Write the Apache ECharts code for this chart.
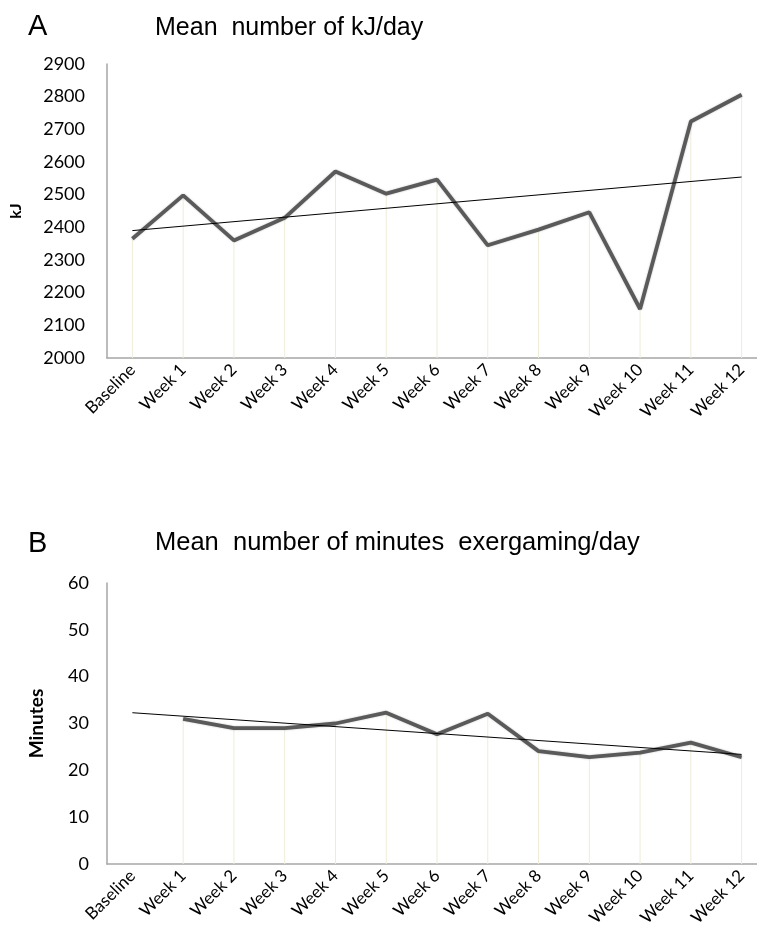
<!DOCTYPE html>
<html>
<head>
<meta charset="utf-8">
<script src="https://cdn.jsdelivr.net/npm/echarts@6/dist/echarts.min.js"></script>
<style>
  html, body { margin: 0; padding: 0; background: #fff; }
  #chart { width: 757px; height: 945px; }
</style>
</head>
<body>
<div id="chart"></div>
<script>
// Categories (shared by both panels)
const weeks = ['Baseline', 'Week 1', 'Week 2', 'Week 3', 'Week 4', 'Week 5', 'Week 6',
               'Week 7', 'Week 8', 'Week 9', 'Week 10', 'Week 11', 'Week 12'];

// Panel A: mean kJ/day
const kjValues = [2365, 2498, 2360, 2429, 2571, 2503, 2546, 2345, 2393, 2446, 2150, 2724, 2806];
const kjTrend = [2390, 2554]; // linear trendline at Baseline and Week 12

// Panel B: mean minutes exergaming/day (no value at baseline)
const minValues = [null, 31, 29, 29, 30, 32.3, 27.7, 32.1, 24.1, 22.8, 23.8, 25.9, 22.8];
const minTrend = [32.3, 23.4];

const chart = echarts.init(document.getElementById('chart'));

const lineColor = '#5a5a5a';
const dropColor = '#eeecd8';
const axisGray = '#a6a6a6';
const labelFont = 'Lato, "Open Sans", sans-serif';
const titleFont = '"Liberation Sans", Arial, sans-serif';

function xAxisFor(gridIndex) {
    return {
        type: 'category',
        gridIndex: gridIndex,
        data: weeks,
        boundaryGap: true,
        axisLine: { lineStyle: { color: axisGray, width: 1.5 } },
        axisTick: { show: false },
        axisLabel: {
            rotate: 45,
            interval: 0,
            margin: 9,
            color: '#000',
            fontSize: 17,
            fontFamily: labelFont
        }
    };
}

function yAxisFor(gridIndex, min, max, step, name, nameGap, labelMargin) {
    return {
        type: 'value',
        gridIndex: gridIndex,
        min: min,
        max: max,
        interval: step,
        name: name,
        nameLocation: 'middle',
        nameRotate: 90,
        nameGap: nameGap,
        nameTextStyle: { fontWeight: 'bold', fontSize: gridIndex === 0 ? 16 : 19, color: '#000', fontFamily: labelFont },
        axisLine: { show: true, lineStyle: { color: axisGray, width: 1.5 } },
        axisTick: { show: false },
        splitLine: { show: false },
        axisLabel: {
            color: '#000', fontSize: 18, margin: labelMargin, fontFamily: labelFont,
            formatter: v => String(v)
        }
    };
}

const option = {
    backgroundColor: '#fff',
    animation: false,
    title: [
        { text: 'A', left: 28, top: 12, padding: 0,
          textStyle: { fontSize: 29, fontWeight: 'normal', color: '#000', fontFamily: titleFont } },
        { text: 'Mean  number of kJ/day', left: 155, top: 16, padding: 0,
          textStyle: { fontSize: 25, fontWeight: 'normal', color: '#000', fontFamily: titleFont } },
        { text: 'B', left: 28, top: 529, padding: 0,
          textStyle: { fontSize: 29, fontWeight: 'normal', color: '#000', fontFamily: titleFont } },
        { text: 'Mean  number of minutes  exergaming/day', left: 155, top: 530, padding: 0,
          textStyle: { fontSize: 25.5, fontWeight: 'normal', color: '#000', fontFamily: titleFont } }
    ],
    grid: [
        { left: 107, top: 64, width: 660, height: 294, outerBoundsMode: 'none', containLabel: false },
        { left: 107, top: 583, width: 660, height: 281, outerBoundsMode: 'none', containLabel: false }
    ],
    xAxis: [xAxisFor(0), xAxisFor(1)],
    yAxis: [
        yAxisFor(0, 2000, 2900, 100, 'kJ', 83, 22),
        yAxisFor(1, 0, 60, 10, 'Minutes', 61, 18)
    ],
    series: [
        // drop lines
        { type: 'bar', xAxisIndex: 0, yAxisIndex: 0, data: kjValues, barWidth: 1,
          itemStyle: { color: dropColor }, silent: true, z: 1 },
        { type: 'bar', xAxisIndex: 1, yAxisIndex: 1, data: minValues, barWidth: 1,
          itemStyle: { color: dropColor }, silent: true, z: 1 },
        // data lines
        { type: 'line', xAxisIndex: 0, yAxisIndex: 0, data: kjValues, symbol: 'none',
          lineStyle: { color: lineColor, width: 3.8, shadowColor: 'rgba(0,0,0,0.25)', shadowBlur: 2 }, z: 3 },
        { type: 'line', xAxisIndex: 1, yAxisIndex: 1, data: minValues, symbol: 'none',
          lineStyle: { color: lineColor, width: 3.8, shadowColor: 'rgba(0,0,0,0.25)', shadowBlur: 2 }, z: 3 },
        // trendlines
        { type: 'line', xAxisIndex: 0, yAxisIndex: 0, symbol: 'none',
          data: [[weeks[0], kjTrend[0]], [weeks[weeks.length - 1], kjTrend[1]]],
          lineStyle: { color: '#000', width: 1 }, z: 4 },
        { type: 'line', xAxisIndex: 1, yAxisIndex: 1, symbol: 'none',
          data: [[weeks[0], minTrend[0]], [weeks[weeks.length - 1], minTrend[1]]],
          lineStyle: { color: '#000', width: 1 }, z: 4 }
    ]
};

chart.setOption(option);
</script>
</body>
</html>
